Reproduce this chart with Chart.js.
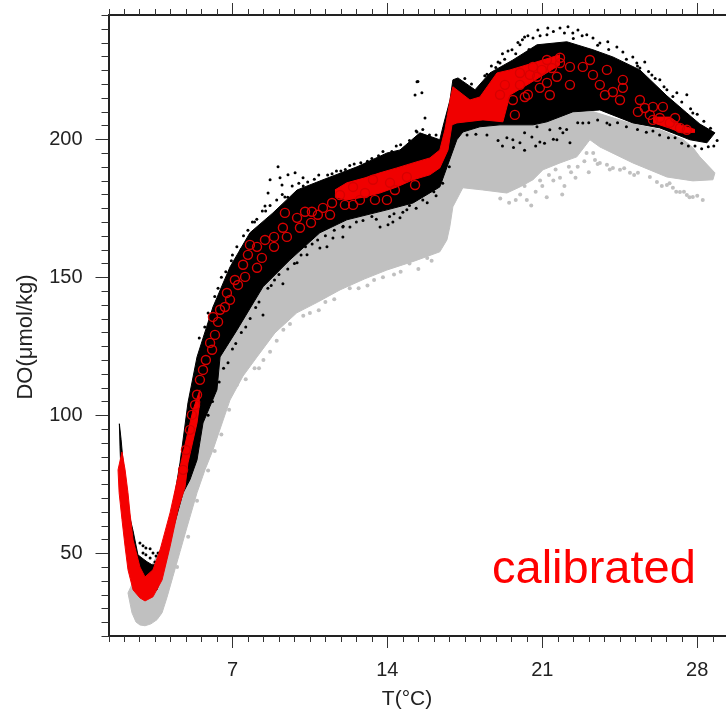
<!DOCTYPE html>
<html>
<head>
<meta charset="utf-8">
<script src="https://cdn.jsdelivr.net/npm/chart.js@4/dist/chart.umd.js"></script>
<style>
  html, body { margin: 0; padding: 0; background: #fff; }
  #wrap { width: 726px; height: 709px; overflow: hidden; }
  canvas { filter: blur(0.5px); }
</style>
</head>
<body>
<div id="wrap"><canvas id="doChart" width="726" height="709"></canvas></div>
<script>
  // tick lists
  const xMajorTicks = [7, 14, 21, 28];
  const xMinorTicks = [1.4, 2.1, 2.8, 3.5, 4.2, 4.9, 5.6, 6.3, 7.7, 8.4, 9.1, 9.8, 10.5, 11.2, 11.9, 12.6, 13.3, 14.7, 15.4, 16.1, 16.8, 17.5, 18.2, 18.9, 19.6, 20.3, 21.7, 22.4, 23.1, 23.8, 24.5, 25.2, 25.9, 26.6, 27.3, 28.7];
  const yMajorTicks = [50, 100, 150, 200];
  const yMinorTicks = [20, 25, 30, 35, 40, 45, 55, 60, 65, 70, 75, 80, 85, 90, 95, 105, 110, 115, 120, 125, 130, 135, 140, 145, 155, 160, 165, 170, 175, 180, 185, 190, 195, 205, 210, 215, 220, 225, 230, 235, 240, 245];

  // uncalibrated cloud (grey), upper and lower envelope
  const grayHighT = [2.28, 2.82, 3.05, 4.31, 5.4, 6.12, 6.89, 8.11, 9.91, 11.86, 13.98, 15.24, 16.37, 16.96, 17.41, 18.31, 19.4, 20.5, 21, 22.38, 23.29, 25.09, 26.3, 27.35, 27.8, 28.12, 28.8];
  const grayHighD = [35.6, 45, 41, 60, 100, 125, 140, 155, 168, 175, 180, 186, 192, 204, 203, 205, 205.5, 205.5, 206, 209.5, 210, 205.5, 203.5, 200, 197, 193.6, 187.8];
  const grayLowT = [2.28, 2.46, 2.64, 2.82, 3.05, 3.32, 3.59, 3.82, 4.04, 4.31, 4.63, 4.95, 5.4, 5.76, 6.12, 6.89, 7.48, 8.11, 8.92, 9.91, 10.86, 11.86, 12.98, 13.98, 15.24, 16.37, 16.69, 16.82, 16.96, 17.41, 18.31, 19.4, 19.99, 20.58, 21.03, 21.8, 22.56, 23.15, 23.6, 25.09, 26.63, 27.8, 28.71, 28.8];
  const grayLowD = [35.6, 28.4, 25.1, 24, 23.7, 24.4, 25.9, 28.4, 33.9, 41.5, 50.5, 59.5, 71.9, 80.2, 87.4, 105.5, 114.2, 121.1, 129.8, 137.1, 141, 145.4, 149.4, 152.6, 155.9, 159.2, 163.5, 168.2, 175.5, 182.4, 181.6, 180.5, 182.7, 185.3, 188.9, 191.4, 193.6, 199.8, 197.2, 191.4, 186.3, 184.9, 185.3, 187.8];
  const graySpeckT = [23.38, 23.6, 23.92, 24.19, 24.51, 24.96, 25.32, 25.86, 26.18, 26.63, 26.9, 27.22, 27.53, 27.8, 28.25, 23.5, 24.05, 24.7, 25.15, 26.4, 26.75, 27.05, 27.4, 27.65, 28, 20, 20.3, 20.7, 21, 21.2, 21.5, 21.8, 22, 22.3, 22.6, 22.9, 23.1, 23.3, 19.8, 20.5, 21.9, 22.5, 23, 21.3, 7.2, 8.4, 9, 9.6, 10.2, 10.9, 11.6, 12.3, 13.1, 13.8, 14.6, 15.4, 16, 6.5, 5.9, 5, 8, 8.7, 6.2, 6.85, 7.6, 8.2, 9.3, 10.5, 11.2, 12.7, 13.4, 14.3, 15, 15.8, 4.5, 5.4, 19.1, 19.5, 20.2, 20.9, 21.6, 22.2];
  const graySpeckD = [192.5, 191.4, 190.7, 189.6, 188.9, 187.8, 187.8, 186.3, 184.5, 183.4, 182.4, 180.9, 179.8, 179.1, 178, 191, 189, 189.5, 187, 183, 184, 181, 181, 179, 179.5, 180, 178, 181, 183, 179, 185, 186, 183, 188, 190, 192, 188, 195, 178, 176, 180, 186, 195, 187, 111, 120, 127, 133, 136, 138, 142, 146, 147, 150, 152, 153, 156, 93, 80, 56, 117, 123, 87, 102, 113, 117, 131, 137, 141, 146, 149, 151, 155, 157, 45, 69, 178.5, 177, 183, 185, 189, 190];

  // calibrated cloud (black)
  const blackHighT = [1.89, 1.97, 2.06, 2.19, 2.37, 2.51, 2.73, 2.91, 3.14, 3.37, 3.64, 3.77, 3.95, 4.27, 4.63, 4.99, 5.4, 6.12, 6.89, 7.79, 8.83, 9.92, 11.09, 12.63, 13.98, 14.57, 15.47, 16.37, 16.51, 16.83, 16.96, 17.19, 17.96, 18.63, 19.67, 20.76, 22.11, 23.29, 24.19, 25.41, 26.63, 27.53, 28.12, 28.8];
  const blackHighD = [96.9, 91.1, 83.1, 72.9, 62.8, 58.1, 49.4, 48.3, 46.9, 45.8, 45.8, 48.3, 53, 65, 82.7, 104.5, 121.1, 139.2, 153.7, 166.1, 173.3, 181.6, 185.3, 190, 195, 196.1, 202.3, 199.8, 204.5, 214.2, 221.5, 222.2, 217.9, 224, 228.7, 234.2, 235.3, 232.4, 229.8, 225.1, 215.7, 209.5, 205.5, 202.3];
  const blackLowT = [1.89, 1.92, 2.01, 2.37, 3.05, 3.59, 3.95, 4.31, 4.77, 5.08, 5.4, 5.67, 6.3, 6.44, 7.21, 8.38, 9.6, 10.95, 12.17, 13.98, 15.16, 16.37, 17.14, 17.41, 18.18, 19.09, 20.58, 21.21, 22.38, 23.6, 25.09, 26.31, 27.67, 28.44, 28.8];
  const blackLowD = [96.9, 88.5, 69.3, 44, 34.9, 36.7, 45.8, 58.5, 71.9, 76.6, 83.8, 97.2, 109.2, 121.1, 130.9, 146.5, 156.3, 166.1, 170.8, 174.4, 176.9, 182.7, 199.8, 202.6, 204.5, 205.2, 205.2, 206.3, 209.9, 210.6, 205.9, 204.1, 199.8, 198.7, 202.3];
  const blackSpeckT = [9.06, 8.7, 9.15, 9.51, 9.83, 10.19, 9.24, 8.61, 8.47, 9.37, 10.95, 10.37, 11.27, 9.92, 9.28, 8.38, 11.99, 11.54, 11.99, 12.31, 13.67, 14.03, 14.57, 14.25, 14.88, 15.34, 15.38, 15.25, 15.56, 15.7, 15.34, 20.8, 21.25, 21.8, 22.16, 22.61, 23.01, 23.29, 23.96, 24.64, 25.09, 25.63, 25.41, 25.95, 26.63, 27.08, 27.53, 27.8, 20.58, 19.99, 19.63, 19.09, 21.21, 22.38, 23.6, 24.37, 25.27, 26.31, 20.2, 20.9, 21.5, 22, 22.4, 22.8, 23.5, 24, 24.8, 25.3, 25.8, 26.1, 26.5, 26.9, 27.3, 27.7, 28, 28.3, 28.6, 19.3, 19.5, 19.8, 20.4, 18.9, 18.5, 19.4, 19.99, 20.53, 20.89, 21.66, 22.25, 21.93, 21.34, 20.76, 20.2, 19.67, 22.83, 23.92, 24.05, 6, 6.5, 7, 7.5, 8, 8.5, 9.5, 10.2, 10.7, 11.3, 11.9, 12.5, 13.1, 13.6, 14.2, 14.8, 15.1, 15.7, 6.6, 7, 7.6, 8.2, 8.9, 9.5, 10.3, 11.2, 12.6, 13.3, 14.3, 15, 15.6, 16.1, 26, 27, 27.9, 28.5, 28.9,
    5.5, 5.75, 5.9, 6.2, 6.35, 6.7, 6.95, 7.2, 7.4, 7.7, 7.9, 8.1, 8.35, 8.7, 9, 9.25, 9.7, 10, 10.4, 10.9, 11.5, 11.7, 12.1, 12.3, 12.8, 13.3, 13.8, 14.4, 14.6, 15, 15.3, 15.6, 15.9, 16.2,
    5.9, 6.1, 6.4, 6.8, 7.15, 7.4, 7.8, 8.05, 8.6, 8.75, 9.1, 9.8, 10.1, 10.6, 10.85, 11.6, 12, 12.9, 13.5, 14.1, 14.7, 15.3, 15.8, 16.2, 16.5, 16.8,
    17.5, 17.8, 18.2, 18.4, 18.7, 19, 19.2, 19.45, 19.9, 20.1, 20.35,
    17.6, 18, 18.5, 19, 19.2, 19.7, 20.2, 20.7, 21.1, 21.5, 21.8, 22.1, 22.6, 23.1, 23.5, 24.4, 24.8, 25.3, 25.7, 26.3, 26.7, 27.3, 27.6, 28.2, 28.75,
    2.82, 2.96, 3.09, 3.28, 3.41, 3.55, 3.09, 3.28, 3.5, 2.96, 3.64];
  const blackSpeckD = [190, 185.3, 186, 187.1, 187.8, 186, 183.4, 180.5, 175.8, 179.1, 160.6, 158.1, 161, 155.2, 147.6, 136.3, 168.2, 164.2, 164.6, 168.2, 168.2, 169, 171.5, 170, 174.4, 220.8, 220.9, 216, 216.8, 207.7, 202.6, 239.6, 240.3, 240.3, 240.7, 239.6, 237.8, 236.7, 235.3, 231.6, 229.8, 228, 225.8, 223.3, 217.9, 216.8, 216.1, 209.5, 236.7, 234.2, 232.4, 227.6, 237.8, 238.5, 234.9, 233.4, 227.6, 221.5, 237, 237.5, 239, 238.5, 236.5, 237.5, 234, 232.5, 229, 226.5, 224.5, 222, 219, 215.5, 213.5, 211, 209, 206.5, 204, 229, 226, 231, 232.5, 226, 223.5, 200.5, 198.7, 200.8, 199, 199.8, 198.7, 202.3, 203.4, 204.5, 202.3, 199.8, 205.9, 205.9, 205.2, 136, 150, 158, 165, 170, 174, 179, 183, 185.5, 187, 188.5, 191, 192, 194, 195.5, 197, 199, 201, 117, 124, 132, 141, 149, 153, 161, 165, 170, 172, 173, 176, 178, 181, 203, 200.5, 197.5, 197.3, 199.5,
    128, 132, 137, 143, 146, 152, 156, 161, 160, 167, 170, 171, 174, 176, 178, 180, 183, 184, 184.5, 187, 187.5, 188.5, 189, 190.5, 191.5, 193, 195.5, 197.5, 198, 199.5, 203, 203.5, 201.5, 201.5,
    100, 105, 112, 119, 126, 130, 135, 139, 146, 147, 151, 155, 158, 162, 163.5, 167, 168.5, 170.5, 171, 172, 173.5, 175, 177, 179.5, 184, 190,
    222, 220, 219, 223, 226.5, 228, 231, 232, 235, 236, 237.5,
    201.5, 201.8, 201.5, 199.5, 197.5, 197, 196, 197.5, 198.5, 200, 204, 203.5, 206, 206, 207, 206, 204.5, 203.5, 202.5, 201.5, 200.5, 198.5, 197.5, 196.5, 197.5,
    53.7, 52.7, 51.9, 51.6, 50.1, 49, 49.4, 48.3, 46.8, 50.1, 50.1];

  // red core, valley part
  const redValleyHighT = [1.83, 2.01, 2.15, 2.28, 2.37, 2.51, 2.82, 3.05, 3.41, 3.73, 4.18, 4.54, 4.77, 5.22, 5.53];
  const redValleyHighD = [80.2, 86.7, 80.2, 71.9, 64.6, 54.8, 45, 41.4, 44, 51.2, 64.6, 77.7, 86.3, 101.9, 109.2];
  const redValleyLowT = [1.83, 1.88, 2.01, 2.15, 2.28, 2.51, 2.82, 3.05, 3.41, 3.82, 4.18, 4.54, 4.86, 4.99, 5.4, 5.53];
  const redValleyLowD = [80.2, 71.9, 62.1, 52.3, 44, 36.7, 33.8, 32.7, 34.2, 40.3, 52.3, 65.7, 74, 82.7, 97.2, 105];

  // red core, warm part
  const redCoreHighT = [11.63, 12.17, 12.99, 13.66, 14.43, 15.16, 15.92, 16.37, 16.6, 16.83, 16.96, 17.73, 18.18, 18.95, 19.54, 20.58, 21.8];
  const redCoreHighD = [181.6, 184.2, 186, 187.8, 189.6, 191.4, 193.2, 196.1, 203.4, 214.2, 219, 214.2, 215.3, 224, 225.1, 227.6, 230.6];
  const redCoreLowT = [11.63, 12.17, 12.99, 13.66, 14.43, 15.16, 15.92, 16.37, 16.74, 16.92, 17.14, 18.32, 19.22, 19.54, 20.58, 21.8];
  const redCoreLowD = [179.1, 178, 179.1, 180.5, 182.7, 185.3, 187.1, 189.6, 196.1, 205.2, 205.9, 207, 206.3, 216, 221, 227];
  const redTailT = [26, 26.76, 27.3, 27.9];
  const redTailHighD = [208, 208, 205, 203.5];
  const redTailLowD = [206, 204, 202.3, 202.5];

  // red open circles
  const circleT = [9.37, 10.59, 10.55, 9.92, 9.28, 9.46, 8.88, 8.88, 8.11, 7.7, 8.11, 7.57, 7.11, 6.75, 6.66, 6.12, 5.99, 6.35, 6.08, 5.67, 5.4, 5.08, 4.9, 4.77, 11.09, 11.5, 11.86, 12.45, 12.45, 12.99, 13.35, 13.98, 14.12, 14.88, 19.67, 19.76, 20.35, 20.76, 21.21, 21.66, 22.25, 22.83, 23.29, 23.92, 24.64, 24.64, 24.19, 24.51, 25.41, 25.32, 26, 26.45, 26, 26.76, 27.53, 19.99, 20.58, 21.21, 21.8, 21.8,
    19.99, 20.44, 20.98, 21.43, 20.21, 19.31, 19.09, 20.89, 21.34, 22.25, 23.6, 23.15, 23.83, 25.86, 26.31, 25.63, 27.22, 27,
    5.17, 5.31, 5.53, 5.8, 6.21, 6.44, 6.89, 7.25, 7.48, 7.79, 8.47, 8.33, 10.05, 10.28, 10.86, 11.41, 12.08, 12.76, 13.44, 14.34, 15.25];
  const circleD = [173.3, 173.7, 169.7, 171.5, 167.9, 164.6, 164.6, 161, 161, 158.1, 153.4, 150.1, 149, 144.3, 139.2, 135.6, 126.2, 133.8, 123.7, 116.4, 107.4, 94.7, 87.4, 80.2, 175.1, 176.9, 179.8, 176.2, 182.7, 180.5, 185.3, 178, 184.2, 186.3, 214.2, 208.8, 216.1, 222.6, 220.4, 222.6, 226.2, 226.2, 223.3, 225.1, 221.5, 218.6, 217.1, 214.2, 214.2, 209.9, 211.7, 211.7, 207, 205.9, 203.4, 224, 226.2, 228.7, 229.5, 227.6,
    219.7, 223.3, 225.1, 225.8, 215.3, 219.7, 216.1, 218.6, 216, 219.7, 219.7, 228.7, 216, 208.8, 207.7, 211.3, 204.1, 207.7,
    100.1, 103.7, 112.8, 120, 129.1, 138.2, 141.8, 147.2, 154.5, 161.7, 163.5, 157, 167.9, 173.7, 172.6, 172.6, 176.2, 178, 178, 181.6, 183.4];

  function toPoints(xs, ys) {
    return xs.map((x, i) => ({ x: x, y: ys[i] }));
  }

  function bandPair(label, xsHigh, ysHigh, xsLow, ysLow, color, order) {
    return [
      { type: 'line', label: label + ' high', data: toPoints(xsHigh, ysHigh), borderColor: color, borderWidth: 1, pointRadius: 0, tension: 0, fill: '+1', backgroundColor: color, order: order },
      { type: 'line', label: label + ' low', data: toPoints(xsLow, ysLow), borderColor: color, borderWidth: 1, pointRadius: 0, tension: 0, fill: false, order: order }
    ];
  }

  function noPadding(s) {
    s.paddingLeft = 0;
    s.paddingRight = 0;
    s.paddingTop = 0;
    s.paddingBottom = 0;
  }

  // minor ticks are shorter than the major ones, chart.js has one length per axis
  const frameTicks = {
    id: 'frameTicks',
    afterDraw(chart) {
      const c = chart.ctx;
      const a = chart.chartArea;
      c.save();
      c.strokeStyle = '#333';
      c.lineWidth = 1;
      c.beginPath();
      xMinorTicks.forEach(v => {
        const px = Math.round(chart.scales.x.getPixelForValue(v)) + 0.5;
        c.moveTo(px, a.top); c.lineTo(px, a.top - 6);
        c.moveTo(px, a.bottom); c.lineTo(px, a.bottom + 6);
      });
      yMinorTicks.forEach(v => {
        const py = Math.round(chart.scales.y.getPixelForValue(v)) + 0.5;
        c.moveTo(a.left, py); c.lineTo(a.left - 7, py);
      });
      c.stroke();

      c.fillStyle = '#ff0000';
      c.font = '47px "Liberation Sans"';
      c.textBaseline = 'alphabetic';
      c.textAlign = 'left';
      c.fillText('calibrated', 492, 583);

      // axis titles sit off centre in the original
      c.fillStyle = '#222';
      c.textAlign = 'center';
      c.font = '21px "Liberation Sans"';
      c.fillText('T(°C)', 407, 705);
      c.translate(32, 337);
      c.rotate(-Math.PI / 2);
      c.font = '22px "Liberation Sans"';
      c.fillText('DO(μmol/kg)', 0, 0);
      c.restore();
    }
  };

  const axisFont = { size: 20, family: 'Liberation Sans' };

  new Chart(document.getElementById('doChart'), {
    type: 'scatter',
    data: {
      datasets: [
        { label: 'circles', data: toPoints(circleT, circleD), pointStyle: 'circle', pointRadius: 4.5, pointBorderWidth: 1.4, pointBorderColor: '#d80000', pointBackgroundColor: 'rgba(0,0,0,0)', order: 1 },
        ...bandPair('red valley', redValleyHighT, redValleyHighD, redValleyLowT, redValleyLowD, '#f40000', 2),
        ...bandPair('red core', redCoreHighT, redCoreHighD, redCoreLowT, redCoreLowD, '#f00000', 2),
        ...bandPair('red tail', redTailT, redTailHighD, redTailT, redTailLowD, '#f00000', 2),
        { label: 'black dots', data: toPoints(blackSpeckT, blackSpeckD), pointRadius: 1.5, pointBorderWidth: 0, pointBackgroundColor: '#000', order: 3 },
        ...bandPair('black', blackHighT, blackHighD, blackLowT, blackLowD, '#000', 4),
        { label: 'grey dots', data: toPoints(graySpeckT, graySpeckD), pointRadius: 2, pointBorderWidth: 0, pointBackgroundColor: '#c0c0c0', order: 5 },
        ...bandPair('grey', grayHighT, grayHighD, grayLowT, grayLowD, '#c0c0c0', 6)
      ]
    },
    options: {
      responsive: false,
      animation: false,
      layout: { padding: 0, autoPadding: false },
      plugins: {
        legend: { display: false },
        tooltip: { enabled: false }
      },
      scales: {
        x: {
          type: 'linear',
          position: 'bottom',
          min: 1.4,
          max: 29.3,
          afterBuildTicks: s => { s.ticks = xMajorTicks.map(v => ({ value: v })); },
          afterFit: s => { s.height = 73; noPadding(s); },
          grid: { drawOnChartArea: false, tickLength: 12, tickColor: '#333', tickWidth: 1 },
          border: { color: '#222', width: 2 },
          ticks: { color: '#222', font: axisFont, padding: 10, maxRotation: 0, autoSkip: false }
        },
        xTop: {
          type: 'linear',
          position: 'top',
          min: 1.4,
          max: 29.3,
          afterBuildTicks: s => { s.ticks = xMajorTicks.map(v => ({ value: v })); },
          afterFit: s => { s.height = 15; noPadding(s); },
          grid: { drawOnChartArea: false, tickLength: 12, tickColor: '#333', tickWidth: 1 },
          border: { color: '#222', width: 2 },
          ticks: { display: false }
        },
        y: {
          type: 'linear',
          position: 'left',
          min: 20,
          max: 245,
          afterBuildTicks: s => { s.ticks = yMajorTicks.map(v => ({ value: v })); },
          afterFit: s => { s.width = 108.5; noPadding(s); },
          grid: { drawOnChartArea: false, tickLength: 13, tickColor: '#333', tickWidth: 1 },
          border: { color: '#222', width: 2 },
          ticks: { color: '#222', font: axisFont, padding: 13, autoSkip: false }
        }
      }
    },
    plugins: [frameTicks]
  });
</script>
</body>
</html>
